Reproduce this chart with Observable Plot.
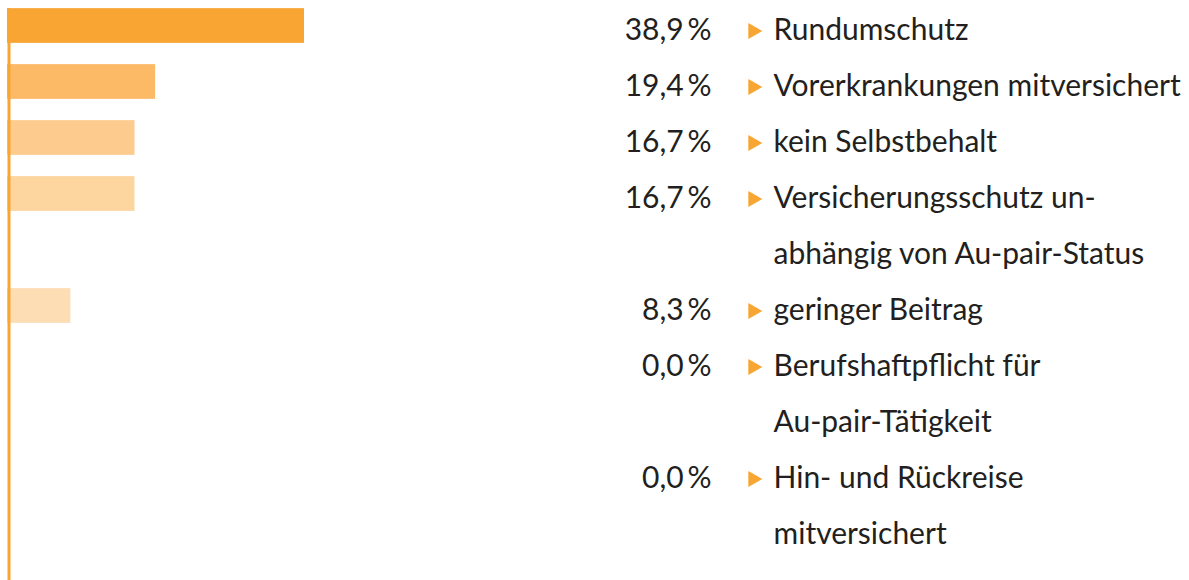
<!DOCTYPE html>
<html>
<head>
<meta charset="utf-8">
<script src="https://cdn.jsdelivr.net/npm/d3@7"></script>
<script src="https://cdn.jsdelivr.net/npm/@observablehq/plot@0.6"></script>
<style>
  html, body { margin: 0; padding: 0; background: #fff; }
  #chart svg { display: block; }
</style>
</head>
<body>
<div id="chart"></div>
<script>
// ---- data ----
const categories = [
  "Rundumschutz",
  "Vorerkrankungen mitversichert",
  "kein Selbstbehalt",
  "Versicherungsschutz un-\nabhängig von Au-pair-Status",
  "geringer Beitrag",
  "Berufshaftpflicht für\nAu-pair-Tätigkeit",
  "Hin- und Rückreise\nmitversichert"
];
const values = [38.9, 19.4, 16.7, 16.7, 8.3, 0.0, 0.0];

// ---- styles ----
const barColors = ["#F9A533", "#FCB966", "#FDCB8E", "#FDD59F", "#FDDDB4", "#FDDDB4", "#FDDDB4"];
const orange = "#F9A533";
const textColor = "#231F20";
const font = "Lato, 'Open Sans', sans-serif";

// build line rows (each label line occupies one row)
const rows = [];
const lines = [];
let idx = 0;
categories.forEach((c, i) => {
  const parts = c.split("\n");
  rows.push({cat: c, value: values[i], line: idx, color: barColors[i],
             pct: d3.format(".1f")(values[i]).replace(".", ",") + "\u2009%"});
  parts.forEach((p, j) => lines.push({line: idx + j, text: p}));
  idx += parts.length;
});
const nLines = idx;

const chart = Plot.plot({
  width: 1189,
  height: 580,
  margin: 0,
  x: {domain: [0, 38.9], range: [7, 304], axis: null},
  y: {type: "band", domain: d3.range(nLines), range: [-2.5, 557.5], round: false,
      paddingInner: 0.38, paddingOuter: 0.19, axis: null},
  style: {fontFamily: font, background: "#fff"},
  marks: [
    Plot.barX(rows.filter(d => d.value > 0), {x: "value", y: "line", fill: "color"}),
    Plot.ruleX([0], {stroke: orange, strokeWidth: 3, dx: 1.5, insetTop: 8}),
    Plot.text(rows, {y: "line", text: "pct", frameAnchor: "left", dx: 711, dy: 4,
                     textAnchor: "end", fontSize: 30, fill: textColor}),
    Plot.dot(rows, {y: "line", frameAnchor: "left", dx: 752.5, dy: 5, symbol: "triangle",
                    rotate: 90, r: 6, fill: orange, stroke: "none"}),
    Plot.text(lines, {y: "line", text: "text", frameAnchor: "left", dx: 773, dy: 4,
                      textAnchor: "start", fontSize: 30, fill: textColor})
  ]
});
document.getElementById("chart").appendChild(chart);
</script>
</body>
</html>
